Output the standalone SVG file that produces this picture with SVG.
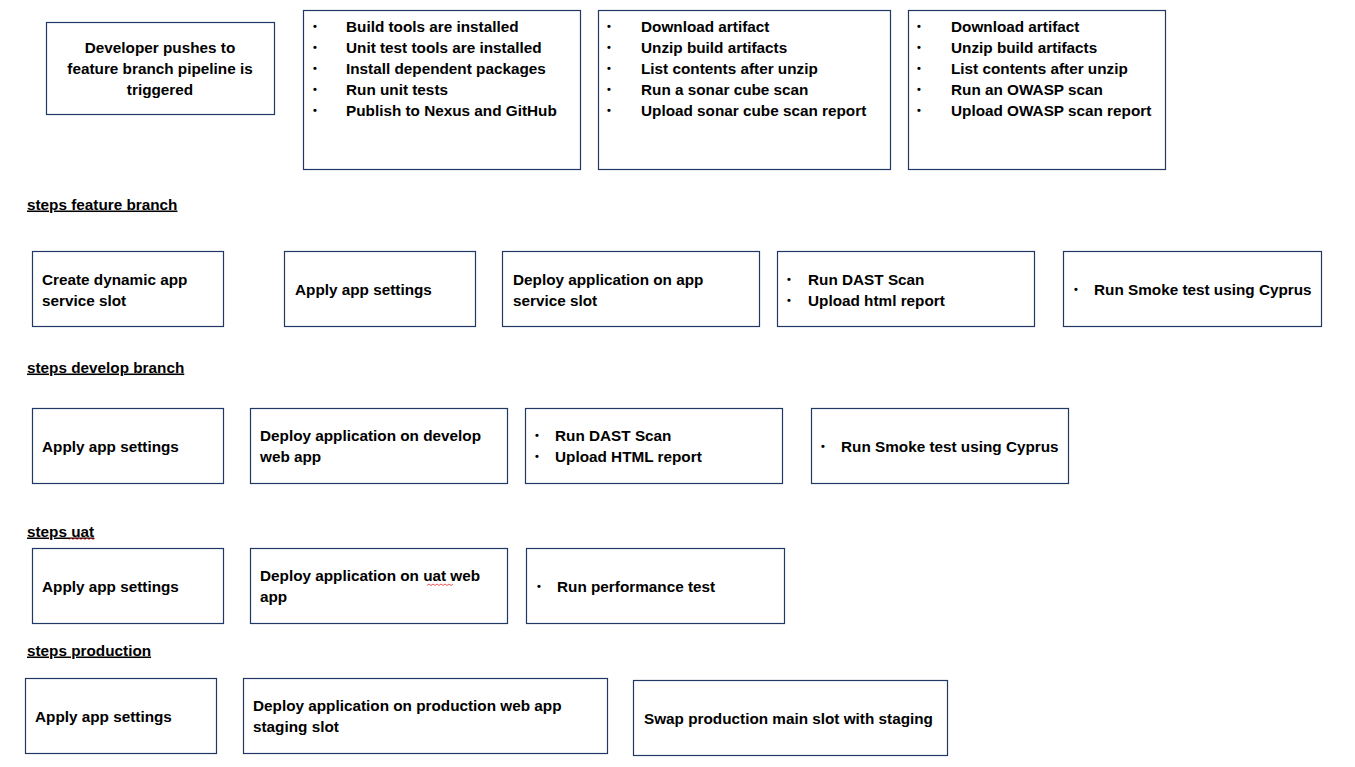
<svg xmlns="http://www.w3.org/2000/svg" width="1355" height="767" viewBox="0 0 1355 767">
<style>
.box{fill:#fff;stroke:#1f3864;stroke-width:1.2}
text{font-family:"Liberation Sans",Arial,sans-serif;font-weight:700;font-size:15.3px;fill:#000}
.c{text-anchor:middle}
.b{font-size:11px}
.h{text-decoration:underline}
.sq{fill:none;stroke:#e03030;stroke-width:0.8}
</style>
<rect width="1355" height="767" fill="#fff"/>
<g id="trigger">
<rect class="box" x="46.5" y="22.5" width="228" height="92"/>
<text class="c" x="160" y="52.5">Developer pushes to</text>
<text class="c" x="160" y="73.5">feature branch pipeline is</text>
<text class="c" x="160" y="94.5">triggered</text>
</g>
<g id="build">
<rect class="box" x="303.5" y="10.5" width="277" height="159"/>
<text class="b" x="313" y="30">•</text><text x="346" y="31.5">Build  tools are installed</text>
<text class="b" x="313" y="51">•</text><text x="346" y="52.5">Unit test tools are installed</text>
<text class="b" x="313" y="72">•</text><text x="346" y="73.5">Install dependent packages</text>
<text class="b" x="313" y="93">•</text><text x="346" y="94.5">Run unit tests</text>
<text class="b" x="313" y="114">•</text><text x="346" y="115.5">Publish to Nexus and GitHub</text>
</g>
<g id="sonar">
<rect class="box" x="598.5" y="10.5" width="292" height="159"/>
<text class="b" x="607" y="30">•</text><text x="641" y="31.5">Download artifact</text>
<text class="b" x="607" y="51">•</text><text x="641" y="52.5">Unzip build artifacts</text>
<text class="b" x="607" y="72">•</text><text x="641" y="73.5">List contents after unzip</text>
<text class="b" x="607" y="93">•</text><text x="641" y="94.5">Run a sonar cube scan</text>
<text class="b" x="607" y="114">•</text><text x="641" y="115.5">Upload sonar cube scan report</text>
</g>
<g id="owasp">
<rect class="box" x="908.5" y="10.5" width="257" height="159"/>
<text class="b" x="917" y="30">•</text><text x="951" y="31.5">Download artifact</text>
<text class="b" x="917" y="51">•</text><text x="951" y="52.5">Unzip build artifacts</text>
<text class="b" x="917" y="72">•</text><text x="951" y="73.5">List contents after unzip</text>
<text class="b" x="917" y="93">•</text><text x="951" y="94.5">Run an OWASP scan</text>
<text class="b" x="917" y="114">•</text><text x="951" y="115.5">Upload OWASP scan report</text>
</g>
<g id="label-feature"><text class="h" x="27" y="209.5">steps feature branch</text></g>
<g id="f1">
<rect class="box" x="32.5" y="251.5" width="191" height="75"/>
<text x="42" y="284.5">Create dynamic app</text>
<text x="42" y="305.5">service slot</text>
</g>
<g id="f2">
<rect class="box" x="284.5" y="251.5" width="191" height="75"/>
<text x="295" y="294.5">Apply app settings</text>
</g>
<g id="f3">
<rect class="box" x="502.5" y="251.5" width="257" height="75"/>
<text x="513" y="284.5">Deploy application on app</text>
<text x="513" y="305.5">service slot</text>
</g>
<g id="f4">
<rect class="box" x="777.5" y="251.5" width="257" height="75"/>
<text class="b" x="787" y="283">•</text><text x="808" y="284.5">Run DAST Scan</text>
<text class="b" x="787" y="304">•</text><text x="808" y="305.5">Upload html report</text>
</g>
<g id="f5">
<rect class="box" x="1063.5" y="251.5" width="258" height="75"/>
<text class="b" x="1074" y="293">•</text><text x="1094" y="294.5">Run Smoke test using Cyprus</text>
</g>
<g id="label-develop"><text class="h" x="27" y="372.5">steps develop branch</text></g>
<g id="d1">
<rect class="box" x="32.5" y="408.5" width="191" height="75"/>
<text x="42" y="451.5">Apply app settings</text>
</g>
<g id="d2">
<rect class="box" x="250.5" y="408.5" width="257" height="75"/>
<text x="260" y="440.5">Deploy application on develop</text>
<text x="260" y="461.5">web app</text>
</g>
<g id="d3">
<rect class="box" x="525.5" y="408.5" width="257" height="75"/>
<text class="b" x="535" y="439">•</text><text x="555" y="440.5">Run DAST Scan</text>
<text class="b" x="535" y="460">•</text><text x="555" y="461.5">Upload HTML report</text>
</g>
<g id="d4">
<rect class="box" x="811.5" y="408.5" width="257" height="75"/>
<text class="b" x="821" y="450">•</text><text x="841" y="451.5">Run Smoke test using Cyprus</text>
</g>
<g id="label-uat"><text class="h" x="27" y="536.5">steps uat</text>
<path class="sq" d="M69 539.5 l2 -1.5 l2 1.5 l2 -1.5 l2 1.5 l2 -1.5 l2 1.5 l2 -1.5 l2 1.5 l2 -1.5 l2 1.5 l2 -1.5 l2 1.5 l2 -1.5"/></g>
<g id="u1">
<rect class="box" x="32.5" y="548.5" width="191" height="75"/>
<text x="42" y="591.5">Apply app settings</text>
</g>
<g id="u2">
<rect class="box" x="250.5" y="548.5" width="257" height="75"/>
<text x="260" y="580.5">Deploy application on uat web</text>
<text x="260" y="601.5">app</text>
<path class="sq" d="M427 585.5 l2 -1.5 l2 1.5 l2 -1.5 l2 1.5 l2 -1.5 l2 1.5 l2 -1.5 l2 1.5 l2 -1.5 l2 1.5 l2 -1.5 l2 1.5 l2 -1.5"/>
</g>
<g id="u3">
<rect class="box" x="526.5" y="548.5" width="258" height="75"/>
<text class="b" x="537" y="590">•</text><text x="557" y="591.5">Run performance test</text>
</g>
<g id="label-production"><text class="h" x="27" y="655.5">steps production</text></g>
<g id="p1">
<rect class="box" x="25.5" y="678.5" width="191" height="75"/>
<text x="35" y="721.5">Apply app settings</text>
</g>
<g id="p2">
<rect class="box" x="243.5" y="678.5" width="364" height="75"/>
<text x="253" y="710.5">Deploy application on production web app</text>
<text x="253" y="731.5">staging slot</text>
</g>
<g id="p3">
<rect class="box" x="633.5" y="680.5" width="314" height="75"/>
<text x="644" y="723.5">Swap production main slot with staging</text>
</g>
<g id="connectors"></g>
</svg>
